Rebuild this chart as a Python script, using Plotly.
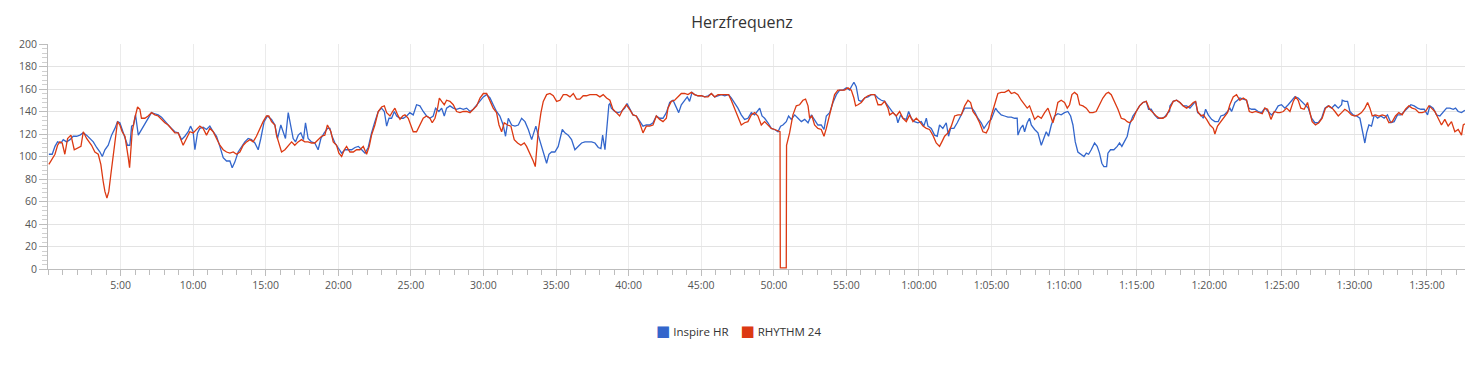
import plotly.graph_objects as go

# ---- data (time in minutes, heart rate in bpm) ----
inspire_t = [0.06,0.29,0.48,0.66,0.89,1.05,1.28,1.51,1.74,1.97,2.20,2.43,2.66,2.89,3.12,3.35,3.58,3.74,3.92,4.15,4.38,4.61,4.79,4.95,5.11,5.30,5.48,5.64,5.76,5.89,6.03,6.22,6.44,6.67,6.90,7.13,7.36,7.59,7.82,8.05,8.28,8.51,8.74,8.97,9.20,9.43,9.66,9.82,10.0,10.12,10.30,10.46,10.69,10.92,11.15,11.38,11.61,11.84,12.07,12.30,12.53,12.69,12.87,13.10,13.33,13.56,13.79,14.02,14.25,14.48,14.66,14.89,15.12,15.40,15.63,15.81,16.04,16.20,16.36,16.55,16.73,16.89,17.05,17.24,17.42,17.60,17.74,17.92,18.15,18.38,18.61,18.80,19.03,19.26,19.42,
    19.54,19.77,20.00,20.23,20.46,20.69,20.92,21.15,21.38,21.61,21.84,22.06,22.29,22.52,22.75,22.98,23.17,23.33,23.49,23.67,23.86,24.02,24.25,24.48,24.71,24.93,25.16,25.39,25.62,25.85,26.08,26.31,26.54,26.70,26.93,27.12,27.30,27.46,27.69,27.92,28.15,28.38,28.61,28.84,29.07,29.30,29.53,29.76,29.99,30.22,30.45,30.67,30.90,31.13,31.36,31.52,31.71,31.94,32.17,32.40,32.63,32.86,33.09,33.32,33.50,33.61,33.77,34.00,34.19,34.35,34.51,34.69,34.92,35.15,35.43,35.61,35.84,36.07,36.30,36.53,36.76,36.99,37.22,37.45,37.68,37.91,38.09,38.21,38.37,38.55,38.64,38.71,
    38.81,39.04,39.27,39.50,39.73,39.89,40.07,40.30,40.53,40.76,40.99,41.22,41.45,41.68,41.91,42.14,42.37,42.60,42.83,43.06,43.22,43.45,43.63,43.81,44.04,44.20,44.37,44.55,44.78,45.01,45.24,45.47,45.70,45.93,46.16,46.39,46.62,46.89,47.07,47.30,47.53,47.76,47.99,48.22,48.45,48.68,48.87,49.03,49.19,49.37,49.60,49.83,50.06,50.29,50.47,50.63,50.86,51.02,51.21,51.44,51.67,51.90,52.13,52.36,52.59,52.81,53.04,53.27,53.46,53.62,53.85,54.08,54.31,54.54,54.77,55.00,55.23,55.34,55.52,55.68,55.85,56.03,56.26,56.49,56.72,56.95,57.18,57.41,57.64,57.87,57.98,
    58.21,58.44,58.55,58.74,58.90,59.13,59.29,59.47,59.70,59.93,60.16,60.34,60.51,60.62,60.85,61.08,61.26,61.42,61.65,61.88,62.04,62.18,62.41,62.64,62.92,63.15,63.38,63.65,63.83,64.06,64.29,64.48,64.64,64.80,64.98,65.17,65.28,65.44,65.67,65.90,66.13,66.36,66.59,66.77,66.82,67.00,67.16,67.28,67.46,67.62,67.74,67.97,68.20,68.43,68.61,68.77,68.93,69.12,69.35,69.57,69.80,70.03,70.26,70.45,70.61,70.77,70.95,71.18,71.37,71.53,71.69,71.87,72.10,72.28,72.44,72.60,72.74,72.93,73.02,73.20,73.43,73.66,73.82,73.98,74.17,74.35,74.51,74.74,74.97,75.20,75.43,75.66,75.82,76.00,76.23,76.46,76.69,76.92,77.15,77.27,
    77.29,77.52,77.75,77.98,78.21,78.44,78.67,78.90,79.06,79.20,79.43,79.59,79.75,79.93,80.16,80.39,80.62,80.80,81.03,81.26,81.42,81.54,81.77,81.95,82.11,82.34,82.57,82.73,82.92,83.15,83.37,83.60,83.83,84.06,84.29,84.52,84.75,84.98,85.21,85.44,85.67,85.90,86.13,86.36,86.59,86.82,87.05,87.28,87.51,87.74,87.97,88.20,88.43,88.66,88.89,89.12,89.16,89.35,89.53,89.69,89.92,90.15,90.38,90.56,90.72,90.84,91.00,91.18,91.37,91.60,91.82,92.05,92.28,92.51,92.74,92.97,93.20,93.43,93.66,93.89,94.12,94.35,94.58,94.81,95.04,95.20,95.43,95.66,95.89,96.12,96.35,96.58,96.81,96.97,97.15,97.38,97.61]
inspire_hr = [102,102,109,113,112,115,113,115,118,118,119,121,119,116,113,108,104,100,106,110,119,125,131,130,124,118,110,110,127,128,137,119,124,128,134,139,138,137,135,131,128,125,122,121,115,118,122,127,122,106,121,125,126,124,127,122,118,109,99,96,96,90,95,104,109,113,116,115,112,106,116,131,136,133,128,116,128,122,116,139,125,116,113,119,121,115,130,116,113,112,106,116,121,125,125,
    119,112,108,103,106,106,106,108,109,106,103,108,121,131,140,143,140,127,134,134,140,136,134,134,136,139,137,146,145,140,136,134,136,143,140,143,136,143,145,143,142,143,142,143,140,142,146,150,153,155,152,146,140,136,128,118,134,128,127,128,134,131,124,115,122,127,119,109,102,94,102,104,104,109,124,121,119,115,106,109,112,113,113,113,112,108,107,119,106,134,146,147,
    143,140,139,140,143,147,143,137,136,131,127,128,128,130,136,134,134,139,148,150,145,139,146,149,153,149,157,155,154,154,153,154,156,153,154,155,154,155,152,148,143,137,133,134,139,137,140,143,136,134,130,125,124,122,127,128,131,136,133,137,134,131,133,130,137,133,128,128,124,136,139,148,155,159,159,161,159,162,166,162,150,149,152,153,155,155,152,150,149,145,143,
    139,136,130,137,134,133,140,134,131,130,131,127,134,127,125,119,118,128,125,130,118,125,125,130,137,143,143,143,140,134,130,125,128,131,133,140,143,140,137,136,135,135,134,134,119,125,128,122,130,134,128,124,121,110,116,122,118,128,136,138,137,139,140,136,128,113,104,102,100,103,102,106,112,109,103,94,91,91,103,106,106,109,112,109,113,118,128,136,140,145,148,149,142,142,137,134,134,135,139,140,
    145,149,150,148,145,145,143,146,149,139,137,134,142,137,133,131,131,136,137,140,143,140,148,150,152,151,150,143,142,142,140,139,143,140,137,140,145,146,143,146,150,153,152,149,146,143,134,130,130,134,143,145,143,146,143,146,150,149,149,140,137,136,134,121,112,121,128,127,137,134,136,134,137,130,131,137,137,140,143,146,145,143,142,142,137,145,143,137,136,140,143,143,142,143,140,139,141]

rhythm_t = [0.06,0.25,0.48,0.66,0.82,0.98,1.16,1.35,1.58,1.81,2.08,2.27,2.43,2.66,3.00,3.23,3.46,3.64,3.80,3.92,4.06,4.19,4.33,4.49,4.65,4.79,4.95,5.11,5.30,5.41,5.53,5.62,5.71,5.80,5.98,6.17,6.33,6.44,6.67,6.90,7.13,7.36,7.59,7.82,8.05,8.28,8.51,8.74,8.97,9.20,9.31,9.54,9.77,10.00,10.23,10.46,10.69,10.92,11.15,11.38,11.61,11.84,12.07,12.30,12.53,12.76,12.99,13.22,13.45,13.68,13.91,14.13,14.36,14.59,14.82,15.05,15.21,15.40,15.63,15.74,15.86,16.09,16.32,16.55,16.78,17.00,17.23,17.46,17.69,17.92,18.16,18.38,18.61,18.85,19.07,19.25,19.42,
    19.49,19.65,19.88,20.04,20.23,20.41,20.57,20.80,21.03,21.26,21.49,21.72,21.95,22.13,22.29,22.52,22.75,22.98,23.17,23.33,23.56,23.74,23.90,24.09,24.25,24.43,24.59,24.82,25.00,25.16,25.39,25.62,25.85,26.08,26.31,26.47,26.66,26.84,26.96,27.12,27.30,27.46,27.69,27.92,28.15,28.38,28.61,28.84,29.07,29.30,29.53,29.76,29.99,30.22,30.45,30.67,30.90,31.07,31.25,31.43,31.66,31.89,32.12,32.35,32.58,32.81,32.97,33.20,33.43,33.57,33.68,33.77,33.96,34.12,34.35,34.58,34.81,35.04,35.27,35.50,35.73,35.96,36.19,36.41,36.64,36.87,37.10,37.33,37.56,37.79,38.02,38.25,38.48,38.71,
    38.92,39.15,39.38,39.61,39.84,40.07,40.30,40.53,40.76,40.99,41.22,41.45,41.68,41.91,42.14,42.37,42.60,42.71,42.94,43.17,43.40,43.63,43.86,44.09,44.32,44.55,44.78,45.01,45.24,45.47,45.70,45.93,46.16,46.39,46.62,46.89,47.07,47.30,47.53,47.76,47.99,48.22,48.45,48.68,48.91,49.14,49.37,49.60,49.83,50.06,50.29,50.43,50.45,50.86,50.88,51.09,51.32,51.55,51.78,52.01,52.19,52.36,52.47,52.63,52.81,53.04,53.27,53.46,53.62,53.78,53.96,54.19,54.42,54.65,54.88,55.11,55.34,55.52,55.64,55.80,56.03,56.26,56.49,56.72,56.95,57.18,57.41,57.64,57.87,57.98,
    58.21,58.44,58.67,58.90,59.13,59.36,59.59,59.82,60.05,60.28,60.51,60.73,60.96,61.19,61.42,61.58,61.77,62.00,62.23,62.46,62.69,62.92,63.15,63.38,63.56,63.72,63.95,64.18,64.41,64.64,64.80,64.98,65.21,65.44,65.67,65.90,66.18,66.36,66.59,66.82,67.05,67.28,67.46,67.62,67.78,67.97,68.20,68.43,68.66,68.89,69.05,69.23,69.39,69.57,69.80,70.03,70.22,70.38,70.54,70.72,70.91,71.07,71.30,71.53,71.76,71.99,72.21,72.44,72.67,72.90,73.06,73.25,73.48,73.71,73.94,74.17,74.35,74.51,74.74,74.97,75.20,75.43,75.66,75.89,76.12,76.35,76.58,76.81,77.04,77.27,
    77.29,77.52,77.75,77.98,78.21,78.44,78.67,78.90,79.06,79.20,79.43,79.59,79.82,80.05,80.28,80.39,80.57,80.80,81.03,81.26,81.42,81.65,81.88,82.11,82.34,82.57,82.76,82.96,83.19,83.42,83.65,83.83,84.02,84.25,84.48,84.71,84.87,85.10,85.33,85.56,85.79,85.95,86.13,86.31,86.54,86.77,86.93,87.09,87.32,87.55,87.78,88.01,88.24,88.47,88.66,88.89,89.12,89.34,89.57,89.80,90.03,90.26,90.49,90.72,90.91,91.07,91.23,91.46,91.69,91.92,92.15,92.38,92.61,92.83,93.06,93.29,93.52,93.75,93.98,94.21,94.44,94.67,94.90,95.13,95.31,95.54,95.77,96.00,96.23,96.46,96.69,96.92,97.15,97.38,97.50,97.61]
rhythm_hr = [93,97,102,110,113,112,102,116,119,106,108,109,122,116,110,104,102,93,78,69,63,69,84,102,119,131,128,122,118,110,99,90,105,122,134,144,142,134,134,136,139,137,136,133,130,128,124,121,121,113,110,116,122,121,124,127,125,119,125,122,116,110,106,104,103,104,102,104,110,113,115,113,118,125,131,136,136,131,128,119,113,104,106,110,113,110,113,115,113,113,112,112,115,118,119,128,124,
    122,113,110,103,100,106,109,104,104,106,106,109,102,109,119,128,140,144,145,139,136,140,143,137,133,136,137,134,127,122,122,128,134,136,134,130,134,143,152,149,146,150,149,146,140,139,140,140,139,142,145,152,156,156,150,143,139,128,122,130,128,127,115,112,110,112,109,103,96,91,108,122,139,149,155,156,154,149,150,155,155,153,156,151,151,154,154,155,155,155,153,155,152,150,
    142,139,136,142,146,142,137,136,130,121,127,127,128,136,133,131,134,143,149,150,153,156,156,155,157,155,154,154,153,153,156,153,155,155,155,155,150,143,136,128,130,131,137,139,136,128,131,128,125,124,123,122,1,1,110,121,137,145,146,150,151,145,134,136,128,125,124,118,125,134,143,155,159,159,159,161,159,152,145,146,148,152,154,155,155,146,146,149,143,137,
    139,136,140,134,131,137,131,134,131,127,125,124,119,112,109,113,118,121,127,136,137,137,145,150,148,140,136,130,122,121,125,136,145,156,157,157,159,156,157,155,150,146,143,145,139,133,136,134,139,143,137,130,137,148,150,148,143,146,155,157,155,146,145,143,139,139,140,146,152,156,157,155,149,142,134,133,131,130,133,140,145,148,149,142,139,136,134,134,136,142,
    143,149,150,148,145,143,145,148,149,140,136,137,133,128,125,120,127,131,136,139,146,153,155,150,152,150,140,139,140,139,138,143,142,133,140,139,139,140,143,140,149,153,150,143,142,148,140,131,128,130,134,143,145,143,140,136,139,142,140,137,136,137,139,143,148,143,136,137,136,137,136,130,131,136,139,137,142,145,143,142,139,139,140,145,143,140,134,128,133,127,131,122,124,119,128,129]

series_names = ["Inspire HR", "RHYTHM 24"]
series_colors = ["#3366CC", "#DC3912"]

x_tick_vals = [5, 10, 15, 20, 25, 30, 35, 40, 45, 50, 55, 60, 65, 70, 75, 80, 85, 90, 95]
x_tick_text = ["5:00", "10:00", "15:00", "20:00", "25:00", "30:00", "35:00", "40:00", "45:00", "50:00",
               "55:00", "1:00:00", "1:05:00", "1:10:00", "1:15:00", "1:20:00", "1:25:00", "1:30:00", "1:35:00"]
x_end = 97.62

FONT = "Open Sans, Noto Sans, sans-serif"
W, H = 1484, 370
# page body has an 8px default margin: compensate so the plot lands where the reference has it
ML, MR, MT, MB = 40, 27, 36, 109
plot_w = W - ML - MR
plot_h = H - MT - MB

fig = go.Figure()
for t, v, name, col in [(inspire_t, inspire_hr, series_names[0], series_colors[0]),
                        (rhythm_t, rhythm_hr, series_names[1], series_colors[1])]:
    fig.add_trace(go.Scatter(x=t, y=v, mode="lines", name=name, showlegend=False,
                             line=dict(color=col, width=1.3), hoverinfo="skip"))

# legend built as text (square swatch + label), as in the reference
legend_html = ("<span style='color:%s;font-size:15px;font-family:DejaVu Sans'>■</span> %s"
               "&nbsp;&nbsp;&nbsp;&nbsp;"
               "<span style='color:%s;font-size:15px;font-family:DejaVu Sans'>■</span> %s") % (
    series_colors[0], series_names[0], series_colors[1], series_names[1])

fig.update_layout(
    width=W, height=H,
    margin=dict(l=ML, r=MR, t=MT, b=MB),
    paper_bgcolor="white", plot_bgcolor="white",
    font=dict(family=FONT, size=11, color="#444"),
    title=dict(text="Herzfrequenz", x=(742 - 8) / W, xref="container", xanchor="center",
               y=1 - 14 / H, yref="container", yanchor="middle",
               font=dict(family=FONT, size=16, color="#333")),
    showlegend=False,
    annotations=[dict(text=legend_html, xref="paper", yref="paper",
                      x=(738 - 8 - ML) / plot_w, y=-62 / plot_h, xanchor="center", yanchor="middle",
                      showarrow=False, font=dict(family=FONT, size=11.5, color="#333"))],
    xaxis=dict(range=[0, x_end], tickmode="array", tickvals=x_tick_vals, ticktext=x_tick_text,
               showgrid=True, gridcolor="#ebebeb", gridwidth=1, zeroline=False,
               showline=True, linecolor="#bdbdbd", linewidth=1,
               ticks="outside", ticklen=6, tickcolor="#bdbdbd",
               tickfont=dict(size=10.5, color="#555"),
               minor=dict(dtick=1, tick0=0, ticks="outside", ticklen=5, tickcolor="#bdbdbd", showgrid=False),
               fixedrange=True),
    yaxis=dict(range=[0, 200], tickmode="linear", tick0=0, dtick=20,
               showgrid=True, gridcolor="#e3e3e3", gridwidth=1, zeroline=False,
               showline=True, linecolor="#bdbdbd", linewidth=1,
               ticks="outside", ticklen=8, tickcolor="#bdbdbd",
               tickfont=dict(size=10.5, color="#555"),
               minor=dict(dtick=4, tick0=0, ticks="outside", ticklen=5, tickcolor="#d0d0d0", showgrid=False),
               fixedrange=True),
)

fig.write_html("out.html")
